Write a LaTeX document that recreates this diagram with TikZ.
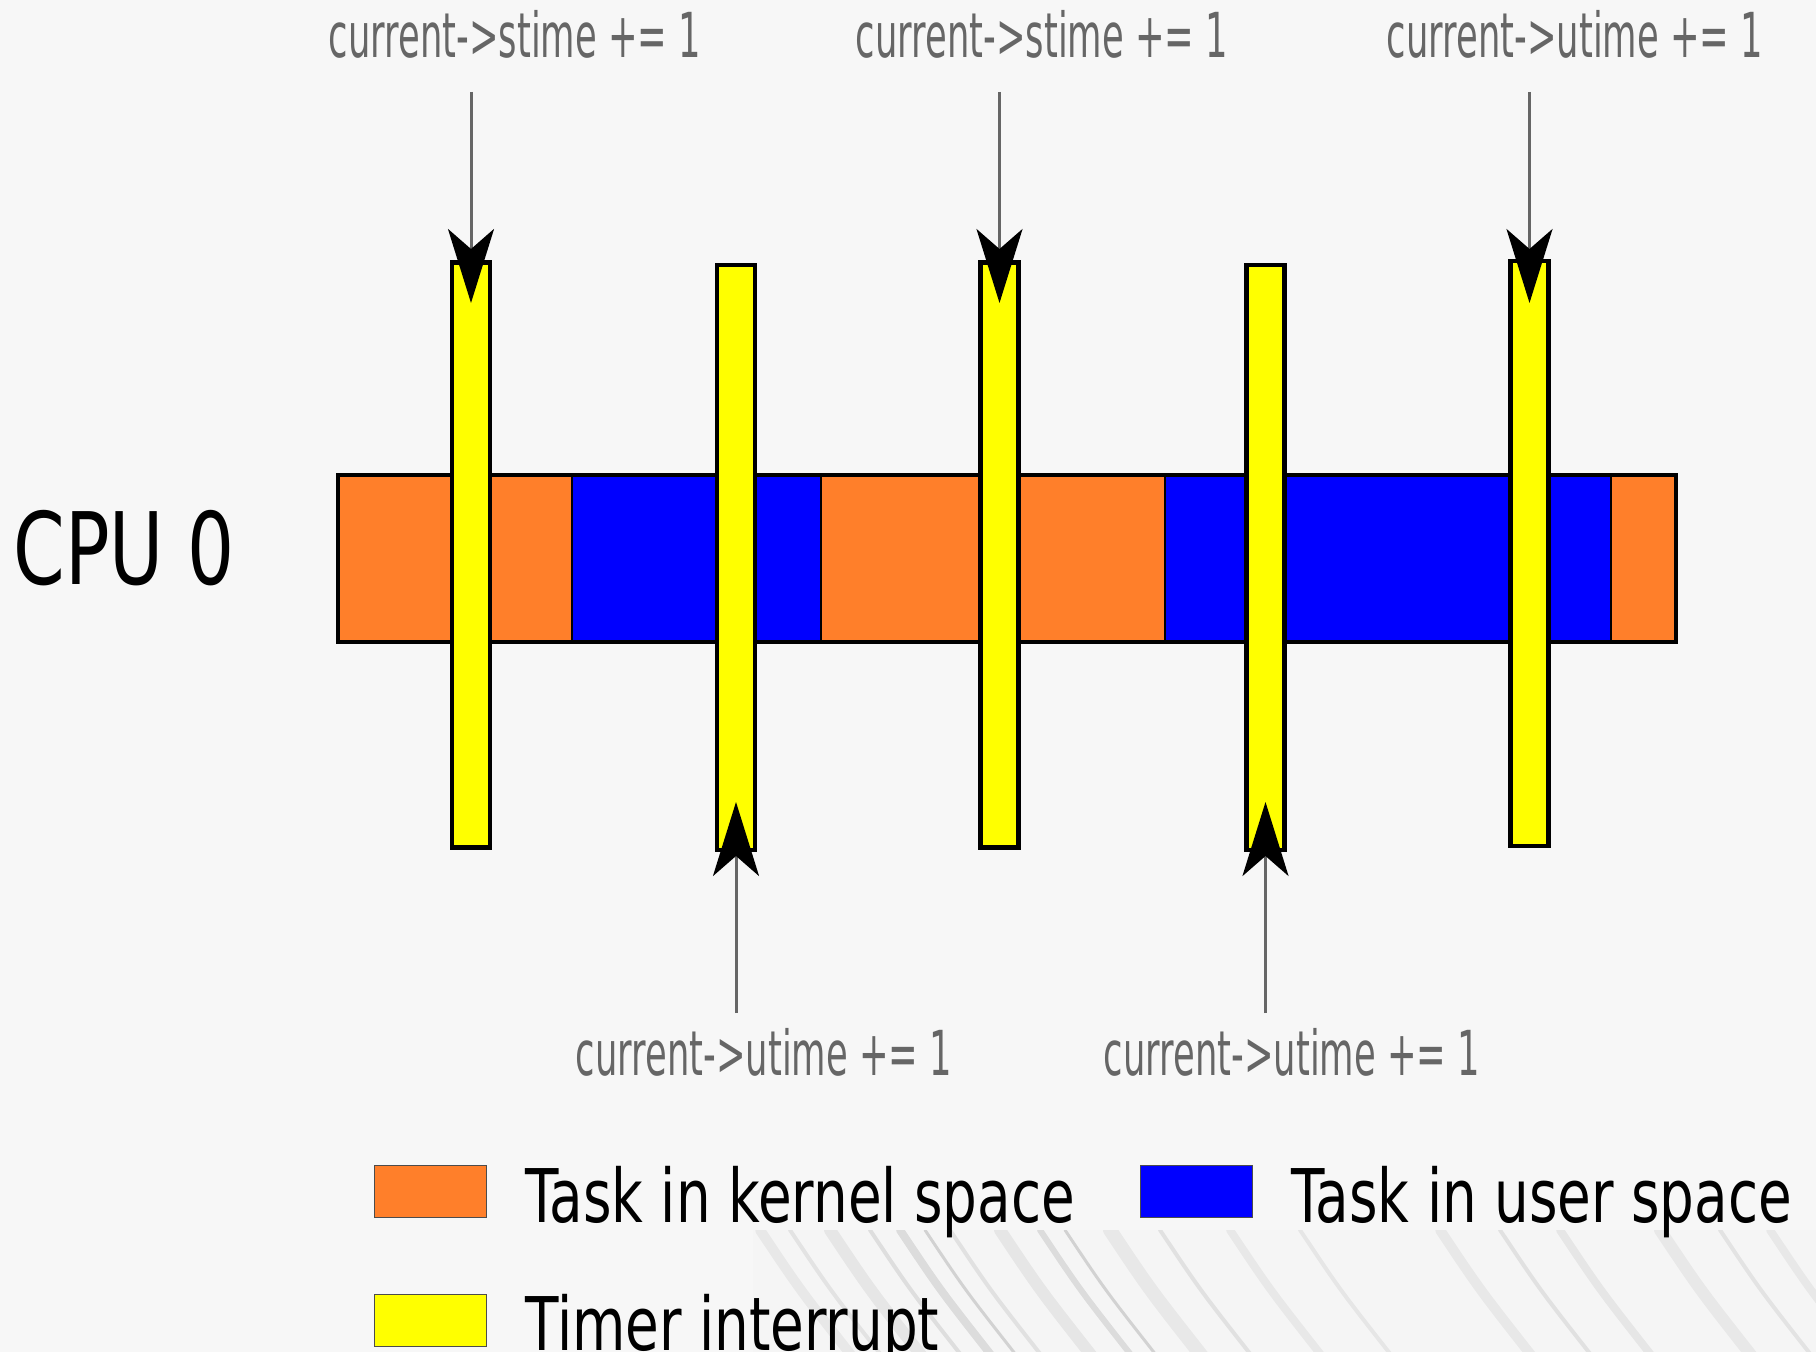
\documentclass[tikz,border=0pt]{standalone}
\usepackage{fontspec}
\setmainfont{DejaVu Sans}
\newfontfamily\lblfont[FakeStretch=0.57]{DejaVu Sans}
\newfontfamily\bigfont[FakeStretch=0.74]{DejaVu Sans}
\usetikzlibrary{arrows.meta}
\definecolor{korange}{HTML}{FF7F2A}
\definecolor{ublue}{HTML}{0000FF}
\definecolor{tyellow}{HTML}{FFFF00}
\definecolor{lblgray}{HTML}{666666}
\definecolor{bgcol}{HTML}{F7F7F7}
\begin{document}
\begin{tikzpicture}[x=0.5pt,y=-0.5pt,
  seg/.style={draw=black, line width=1pt},
  tbar/.style={draw=black, fill=tyellow, line width=2.2pt, inner sep=0pt,
    minimum width=19pt, minimum height=292.5pt},
  arr/.style={draw=lblgray, line width=1.5pt,
    -{Stealth[length=37pt,width=23pt,inset=10pt,color=black]}},
  lbl/.style={text=lblgray, font=\lblfont\fontsize{31}{36}\selectfont, inner sep=0pt, anchor=base},
  big/.style={text=black, font=\bigfont\fontsize{50}{60}\selectfont, inner sep=0pt, anchor=base},
  leg/.style={text=black, font=\bigfont\fontsize{37}{44}\selectfont, inner sep=0pt, anchor=base west},
  legbox/.style={draw=black!70, line width=0.5pt},
  streak/.style={draw=black, line cap=round}]
\useasboundingbox (0,0) rectangle (1816,1352);
\fill[bgcol] (0,0) rectangle (1816,1352);

% textured band behind the lower legend row
\begin{scope}
  \clip (753,1230) rectangle (1816,1352);
  \fill[black!4] (753,1230) rectangle (1816,1352);
  \foreach \x/\w/\o in {760/5/0.05, 790/2/0.07, 830/6/0.06, 870/2/0.09, 900/4/0.10,
      925/1.5/0.14, 950/2/0.08, 1000/6/0.06, 1040/3/0.10, 1065/1.5/0.14, 1110/7/0.05,
      1160/2/0.08, 1230/4/0.05, 1300/2/0.06, 1440/5/0.05, 1500/2/0.08, 1560/4/0.06,
      1660/6/0.05, 1720/2/0.07, 1770/4/0.05}
    \draw[streak, line width=\w pt, opacity=\o] (\x,1230) .. controls (\x+40,1290) .. (\x+95,1360);
\end{scope}

% CPU bar segments
\fill[korange] (338,475) rectangle (572,642);
\fill[ublue] (572,475) rectangle (821,642);
\fill[korange] (821,475) rectangle (1165,642);
\fill[ublue] (1165,475) rectangle (1611,642);
\fill[korange] (1611,475) rectangle (1676,642);
\draw[seg] (572,475) -- (572,642);
\draw[seg] (821,475) -- (821,642);
\draw[seg] (1165,475) -- (1165,642);
\draw[seg] (1611,475) -- (1611,642);
\draw[black, line width=2pt] (338,475) rectangle (1676,642);

\node[big] (cpu) at (124,585) {CPU 0};

% timer interrupt bars
\node[tbar] (b1) at (471,555) {};
\node[tbar] (b2) at (736,557.5) {};
\node[tbar] (b3) at (999.5,555) {};
\node[tbar] (b4) at (1265.5,557.5) {};
\node[tbar] (b5) at (1529.5,553.5) {};

% labels
\node[lbl] (l1) at (515,58) {current->stime += 1};
\node[lbl] (l3) at (1042,58) {current->stime += 1};
\node[lbl] (l5) at (1575,58) {current->utime += 1};
\node[lbl] (l2) at (764,1075) {current->utime += 1};
\node[lbl] (l4) at (1292,1075) {current->utime += 1};

% arrows
\coordinate (s1) at (471,92);    \coordinate (e1) at (471,303);
\coordinate (s3) at (999.5,92);  \coordinate (e3) at (999.5,303);
\coordinate (s5) at (1529.5,92); \coordinate (e5) at (1529.5,303);
\coordinate (s2) at (736,1013);  \coordinate (e2) at (736,802);
\coordinate (s4) at (1265.5,1013); \coordinate (e4) at (1265.5,802);
\draw[arr] (s1) -- (e1);
\draw[arr] (s3) -- (e3);
\draw[arr] (s5) -- (e5);
\draw[arr] (s2) -- (e2);
\draw[arr] (s4) -- (e4);

% legend
\draw[legbox, fill=korange] (374,1165) rectangle (486,1217);
\node[leg] (tk) at (525,1222) {Task in kernel space};
\draw[legbox, fill=ublue] (1140,1165) rectangle (1252,1217);
\node[leg] (tu) at (1291,1222) {Task in user space};
\draw[legbox, fill=tyellow] (374,1294) rectangle (486,1346);
\node[leg] (ti) at (525,1350) {Timer interrupt};
\end{tikzpicture}
\end{document}
